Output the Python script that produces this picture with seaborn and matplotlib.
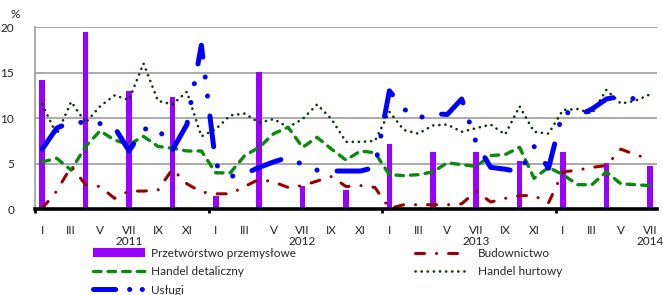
import numpy as np
import pandas as pd
import matplotlib
matplotlib.use("Agg")
import matplotlib.pyplot as plt
import matplotlib.transforms as mtransforms
from matplotlib.patches import Patch
from matplotlib.lines import Line2D
import seaborn as sns

# ---------------- data ----------------
roman = ["I", "II", "III", "IV", "V", "VI", "VII", "VIII", "IX", "X", "XI", "XII"]
years = ["2011", "2012", "2013", "2014"]
month_index = list(range(43))  # I 2011 ... VII 2014

industry_months = [0, 3, 6, 9, 12, 15, 18, 21, 24, 27, 30, 33, 36, 39, 42]
industry = [14.2, 19.4, 13.0, 12.3, 1.5, 15.1, 2.6, 2.1, 7.2, 6.3, 6.3, 5.3, 6.3, 5.1, 4.8]

construction = [0.1, 2.0, 4.7, 2.7, 2.5, 1.2, 2.0, 2.0, 2.1, 4.4, 2.8, 1.9,
                1.7, 1.7, 2.5, 3.3, 3.0, 2.4, 2.6, 3.1, 3.6, 2.5, 2.6, 2.4,
                0.1, 0.5, 0.5, 0.5, 0.5, 0.6, 2.0, 0.8, 1.2, 1.5, 1.5, 0.7,
                4.1, 4.3, 4.6, 4.8, 6.6, 6.0, 5.5]

retail = [5.2, 5.6, 4.3, 6.9, 8.6, 7.6, 7.1, 8.0, 6.9, 6.7, 6.4, 6.4,
          4.0, 4.0, 5.9, 6.8, 8.3, 9.0, 6.8, 7.9, 6.6, 5.4, 6.4, 6.2,
          3.8, 3.7, 3.8, 4.1, 5.1, 4.9, 4.7, 5.9, 6.0, 6.8, 3.4, 4.6,
          3.8, 2.7, 2.7, 4.1, 2.8, 2.7, 2.6]

wholesale = [11.5, 8.2, 11.8, 9.5, 11.3, 12.5, 12.0, 16.0, 11.9, 11.5, 12.9, 8.0,
             8.8, 10.3, 10.5, 9.5, 9.9, 9.0, 9.9, 11.5, 9.9, 7.4, 7.4, 7.5,
             10.7, 8.7, 8.3, 9.2, 9.3, 8.5, 8.9, 9.3, 8.2, 11.3, 8.5, 8.3,
             10.9, 11.0, 10.5, 13.1, 11.6, 11.9, 12.6]

services = [6.6, 8.9, 9.6, 9.5, 9.4, 9.0, 6.4, 8.8, 8.9, 6.5, 9.3, 18.0,
            4.9, 3.6, 3.9, 4.6, 5.2, 5.7, 4.9, 4.3, 4.2, 4.2, 4.2, 4.6,
            13.0, 11.0, 10.0, 10.5, 10.4, 12.1, 7.3, 4.6, 4.4, 4.1, 6.9, 4.5,
            10.8, 10.2, 11.0, 12.1, 12.4, 12.1, 11.3]

names = ["Przetwórstwo przemysłowe", "Budownictwo", "Handel detaliczny",
         "Handel hurtowy", "Usługi"]

# ---------------- style ----------------
sns.set_theme(style="white")
plt.rcParams["font.family"] = ["Lato", "DejaVu Sans"]
plt.rcParams["lines.scale_dashes"] = False
FS = 8.5

C_BAR = "#9900FF"
C_CON = "#9B0000"
C_RET = "#0A8A0A"
C_WHO = "#0A360A"
C_SER = "#0000FF"

LS_SER = (0, (22.3, 14.4, 0.1, 13.7, 0.1, 14.4))
LS_CON = (0, (6.5, 8.6, 0.1, 8.6))
LS_RET = (0, (5.4, 5.1))
LS_WHO = (0, (0.1, 4.3))

W, H = 663, 295
fig = plt.figure(figsize=(W / 100, H / 100), dpi=100)
ax = fig.add_axes([35 / W, 1 - 209.3 / H, (657 - 35) / W, 182.3 / H])

# bars
df_bar = pd.DataFrame({"m": industry_months, "v": industry})
sns.barplot(data=df_bar, x="m", y="v", native_scale=True, width=0.13,
            color=C_BAR, saturation=1, linewidth=0, ax=ax, zorder=2)

# lines
df = pd.DataFrame({"m": month_index, "con": construction, "ret": retail,
                   "who": wholesale, "ser": services})
common = dict(ax=ax, zorder=3, dash_capstyle="round", solid_capstyle="round")
sns.lineplot(data=df, x="m", y="who", color=C_WHO, lw=1.9, linestyle=LS_WHO, **common)
sns.lineplot(data=df, x="m", y="ret", color=C_RET, lw=2.4, linestyle=LS_RET, **common)
sns.lineplot(data=df, x="m", y="con", color=C_CON, lw=2.2, linestyle=LS_CON, **common)
sns.lineplot(data=df, x="m", y="ser", color=C_SER, lw=3.6, linestyle=LS_SER, **common)

# axes
ax.set_xlim(-0.5, 42.5)
ax.set_ylim(0, 20)
ax.set_xlabel("")
ax.set_ylabel("")
ax.set_yticks([0, 5, 10, 15, 20])
ax.set_yticklabels(["0", "5", "10", "15", "20"], fontsize=FS, color="#222222")
ax.yaxis.grid(True, color="#9c9c9c", lw=1.2, zorder=0)
ax.xaxis.grid(False)
ax.set_axisbelow(True)
for s in ["top", "right"]:
    ax.spines[s].set_visible(False)
ax.spines["left"].set_color("#9c9c9c")
ax.spines["left"].set_linewidth(1.2)
ax.spines["bottom"].set_color("black")
ax.spines["bottom"].set_linewidth(2.6)
ax.spines["bottom"].set_zorder(5)
ax.tick_params(axis="y", left=False, pad=9)

ax.set_xticks([-0.5, 11.5, 23.5, 35.5])
ax.set_xticklabels([""] * 4)
ax.tick_params(axis="x", which="major", bottom=True, length=3, width=2, color="black")
minor_pos = [m for m in month_index if m % 2 == 0]
ax.set_xticks(minor_pos, minor=True)
ax.set_xticklabels([roman[m % 12] for m in minor_pos], minor=True, fontsize=FS, color="#222222")
ax.tick_params(axis="x", which="minor", bottom=True, length=0, pad=11)

trans = mtransforms.blended_transform_factory(ax.transData, ax.transAxes)
for k, y in enumerate(years):
    ax.text(6 + 12 * k, -0.178, y, transform=trans, ha="center", va="center",
            fontsize=FS, color="#222222")

fig.text(15 / W, 1 - 14 / H, "%", ha="center", va="center", fontsize=FS, color="#222222")

# legend
h_bar = Patch(facecolor=C_BAR, edgecolor="none")
h_con = Line2D([], [], color=C_CON, lw=2.2, linestyle=LS_CON, dash_capstyle="round")
h_ret = Line2D([], [], color=C_RET, lw=2.4, linestyle=LS_RET, dash_capstyle="round")
h_who = Line2D([], [], color=C_WHO, lw=1.9, linestyle=LS_WHO, dash_capstyle="round")
h_ser = Line2D([], [], color=C_SER, lw=3.6, linestyle=(0, (16, 10, 0.1, 9, 0.1, 9)),
               dash_capstyle="round")

leg_kw = dict(loc="upper left", frameon=False, fontsize=FS, borderpad=0,
              borderaxespad=0, labelspacing=0.62, handleheight=0.8)
fig.legend([h_bar, h_ret, h_ser], [names[0], names[2], names[4]],
           bbox_to_anchor=(93 / W, 1 - 248 / H), handlelength=4.4,
           handletextpad=0.5, **leg_kw)
fig.legend([h_con, h_who], [names[1], names[3]],
           bbox_to_anchor=(415 / W, 1 - 248 / H), handlelength=4.2,
           handletextpad=1.1, **leg_kw)

fig.savefig("out.png", dpi=100)
